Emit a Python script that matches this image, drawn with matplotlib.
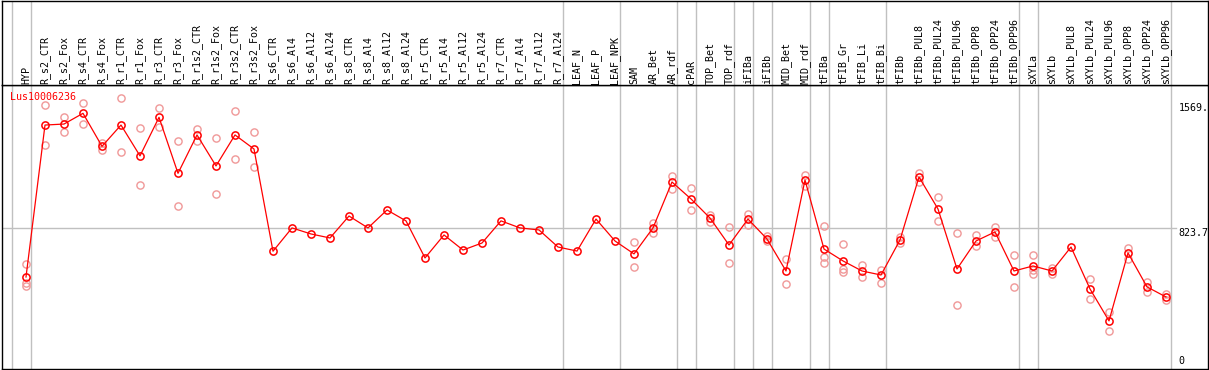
import matplotlib
matplotlib.use("Agg")
import matplotlib.pyplot as plt
import matplotlib.transforms as mtransforms

categories = ["HYP", "R_s2_CTR", "R_s2_Fox", "R_s4_CTR", "R_s4_Fox", "R_r1_CTR", "R_r1_Fox",
              "R_r3_CTR", "R_r3_Fox", "R_r1s2_CTR", "R_r1s2_Fox", "R_r3s2_CTR", "R_r3s2_Fox",
              "R_s6_CTR", "R_s6_Al4", "R_s6_Al12", "R_s6_Al24", "R_s8_CTR", "R_s8_Al4",
              "R_s8_Al12", "R_s8_Al24", "R_r5_CTR", "R_r5_Al4", "R_r5_Al12", "R_r5_Al24",
              "R_r7_CTR", "R_r7_Al4", "R_r7_Al12", "R_r7_Al24", "LEAF_N", "LEAF_P", "LEAF_NPK",
              "SAM", "AR_Bet", "AR_rdf", "cPAR", "TOP_Bet", "TOP_rdf", "iFIBa", "iFIBb",
              "MID_Bet", "MID_rdf", "tFIBa", "tFIB_Gr", "tFIB_Li", "tFIB_Bi", "tFIBb",
              "tFIBb_PUL8", "tFIBb_PUL24", "tFIBb_PUL96", "tFIBb_OPP8", "tFIBb_OPP24",
              "tFIBb_OPP96", "sXYLa", "sXYLb", "sXYLb_PUL8", "sXYLb_PUL24", "sXYLb_PUL96",
              "sXYLb_OPP8", "sXYLb_OPP24", "sXYLb_OPP96"]

means = [531, 1438, 1444, 1508, 1311, 1438, 1254, 1484, 1150, 1379, 1194, 1379, 1295,
         685, 824, 788, 764, 895, 824, 931, 866, 645, 782, 692, 734, 866, 824, 812, 710,
         686, 877, 746, 669, 824, 1098, 997, 883, 722, 877, 758, 567, 1110, 698, 627, 567,
         543, 752, 1128, 937, 579, 746, 800, 567, 597, 567, 710, 460, 269, 675, 472, 412]

replicates = [[609, 494, 479], [1556, 1317], [1486, 1395], [1568, 1444], [1333, 1289],
              [1598, 1277], [1419, 1078], [1540, 1428], [1343, 955], [1415, 1341],
              [1359, 1025], [1522, 1236], [1397, 1186],
              [], [], [], [], [], [], [], [], [], [], [], [], [], [], [], [], [], [], [],
              [740, 591], [852, 794], [1134, 1056], [1062, 931], [901, 860], [830, 615],
              [907, 842], [776, 746], [639, 489], [1140, 1074], [836, 651, 615],
              [728, 579, 561], [603, 531], [573, 495], [770, 734], [1152, 1098],
              [1009, 866], [794, 364], [782, 716], [830, 770], [663, 472],
              [663, 573, 549], [585, 549], [], [519, 400], [322, 209], [704, 639],
              [501, 442], [430, 394]]

group_ends = [-1, 0, 28, 31, 34, 35, 37, 38, 39, 41, 42, 45, 52, 53, 60]
gene = "Lus10006236"
axis_marks = [1569.0, 823.7, 0]
axis_texts = ["1569.", "823.7", "0"]

W, H = 1209, 370
left_px, right_px = 1.5, 1207.5
top_px, bottom_px = 85, 368.5
x0, step = 26, 19
xlim = ((left_px - x0) / step, (right_px - x0) / step)
font = "DejaVu Sans Mono"
fs = 7.2
grey = "#C0C0C0"

fig = plt.figure(figsize=(W / 100, H / 100), dpi=100)
ax = fig.add_axes([left_px / W, (H - bottom_px) / H, (right_px - left_px) / W,
                   (bottom_px - top_px) / H])
hx = fig.add_axes([left_px / W, (H - top_px) / H, (right_px - left_px) / W,
                   (top_px - 0.5) / H])

for a in (ax, hx):
    a.set_xlim(*xlim)
    a.set_xticks([])
    a.set_yticks([])
    for s in a.spines.values():
        s.set_linewidth(1.0)
    for g in group_ends:
        a.axvline(g + 0.25, color=grey, lw=1.0, zorder=0)

ax.set_ylim(-15, 1677)
hx.set_ylim(top_px, 0.5)

# header labels
for i, c in enumerate(categories):
    hx.text(i, 83.5, c, rotation=90, ha="center", va="bottom", family=font, fontsize=fs)

# horizontal mid grid line
ax.plot([xlim[0], (1176 - x0) / step], [823.7, 823.7], color=grey, lw=1.0, zorder=0)

# replicates
for i, reps in enumerate(replicates):
    if reps:
        ax.plot([i] * len(reps), reps, linestyle="none", marker="o", ms=5.2,
                mfc="none", mec="#F09898", mew=1.0, zorder=2)

xs = list(range(len(means)))
ax.plot(xs, means, color="#FF0000", lw=0.9, marker="o", ms=5.2, mfc="none",
        mec="#FF0000", mew=1.1, zorder=3)

ax.text(0.007, 0.9587, gene, transform=ax.transAxes, color="#FF0000", family=font,
        fontsize=fs, ha="left", va="center")

tr = mtransforms.blended_transform_factory(ax.transAxes, ax.transData)
xt = (1178.5 - left_px) / (right_px - left_px)
for v, t in zip(axis_marks, axis_texts):
    ax.text(xt, v, t, transform=tr, family=font, fontsize=fs, ha="left",
            va="bottom" if v == 0 else "top")

fig.savefig("out.png", dpi=100)
